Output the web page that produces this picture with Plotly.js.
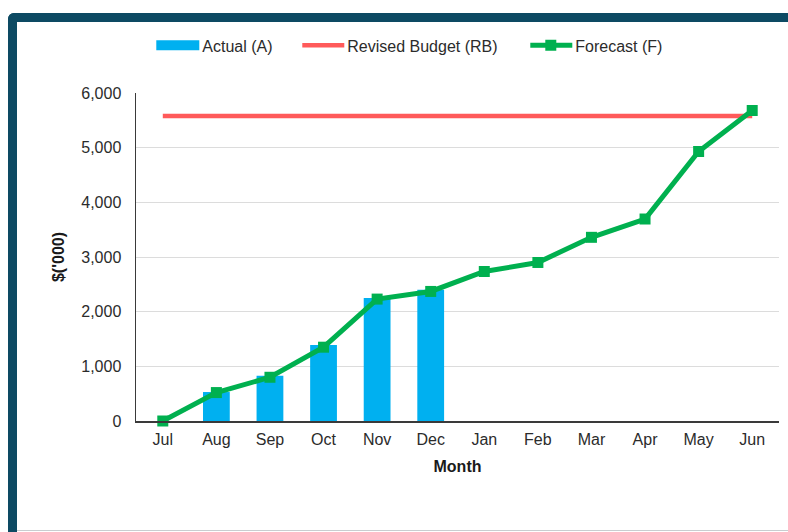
<!DOCTYPE html>
<html>
<head>
<meta charset="utf-8">
<script src="https://cdn.plot.ly/plotly-3.0.1.min.js"></script>
<style>
  html, body { margin: 0; padding: 0; background: #ffffff; overflow: hidden; }
  #wrap { position: relative; width: 788px; height: 532px; }
  #frame { position: absolute; left: 8px; top: 13px; width: 800px; height: 530px;
           border-left: 9px solid #0d4a63; border-top: 9px solid #0d4a63;
           border-top-left-radius: 6px; box-sizing: border-box; }
  #bottomline { position: absolute; left: 17px; top: 530px; width: 771px; height: 1px; background: #c9cdd0; }
  #chart { position: absolute; left: 0; top: 0; width: 788px; height: 532px; }
</style>
</head>
<body>
<div id="wrap">
  <div id="frame"></div>
  <div id="bottomline"></div>
  <div id="chart"></div>
</div>
<script>
const months = ["Jul","Aug","Sep","Oct","Nov","Dec","Jan","Feb","Mar","Apr","May","Jun"];
const actual = [0, 530, 830, 1390, 2250, 2400, null, null, null, null, null, null];
const revisedBudget = [5580, 5580, 5580, 5580, 5580, 5580, 5580, 5580, 5580, 5580, 5580, 5580];
const forecast = [0, 520, 800, 1350, 2230, 2370, 2735, 2900, 3360, 3695, 4930, 5680];
const yTicks = [0, 1000, 2000, 3000, 4000, 5000, 6000];

const font = "Liberation Sans, Arial, sans-serif";
const textColor = "#2b2b2b";
const fs = 16;

const traces = [
  {
    type: "bar", name: "Actual (A)", x: months, y: actual, legend: "legend",
    marker: { color: "#00b0f0" }, width: 0.5
  },
  {
    type: "scatter", mode: "lines", name: "Revised Budget (RB)", x: months, y: revisedBudget, legend: "legend2",
    line: { color: "#ff5a5a", width: 4.5 }
  },
  {
    type: "scatter", mode: "lines+markers", name: "Forecast (F)", x: months, y: forecast, legend: "legend3",
    line: { color: "#00b04f", width: 5 }, cliponaxis: false,
    marker: { color: "#00b04f", symbol: "square", size: 11 }
  }
];

function leg(x) {
  return {
    orientation: "h", x: x, xanchor: "left", y: 1.145, yanchor: "middle", itemwidth: 37,
    font: { family: font, size: fs, color: textColor }, bgcolor: "rgba(0,0,0,0)", borderwidth: 0
  };
}

const layout = {
  width: 788, height: 532,
  margin: { l: 136, r: 9, t: 93, b: 111 },
  paper_bgcolor: "rgba(0,0,0,0)",
  plot_bgcolor: "#ffffff",
  font: { family: font, size: fs, color: textColor },
  showlegend: true,
  legend: leg(0.0300),
  legend2: leg(0.2555),
  legend3: leg(0.6101),
  xaxis: {
    type: "category", categoryorder: "array", categoryarray: months,
    range: [-0.5, 11.5],
    showline: true, linecolor: "#3a3a3a", linewidth: 1.5,
    showgrid: false, ticks: "", zeroline: false, ticklabelstandoff: 3,
    tickfont: { family: font, size: fs, color: textColor },
    title: { text: "Month", font: { family: font, size: fs, color: "#1a1a1a", weight: "bold" }, standoff: 14 }
  },
  yaxis: {
    range: [0, 6000], tickvals: yTicks, tickformat: ",d",
    showline: true, linecolor: "#3a3a3a", linewidth: 1.5,
    showgrid: true, gridcolor: "#dcdcdc", gridwidth: 1,
    zeroline: false, ticks: "", ticklabelstandoff: 10,
    tickfont: { family: font, size: fs, color: textColor },
    title: { text: "$('000)", font: { family: font, size: fs, color: "#1a1a1a", weight: "bold" }, standoff: 12 }
  },
  bargap: 0.5
};

function fixLegendSymbols(gd) {
  const info = gd.querySelector(".infolayer");
  if (!info) return;
  info.querySelectorAll("path.legendundefined").forEach(function (p) {
    p.setAttribute("d", "M1,-5H44V5H1Z");
    p.setAttribute("transform", "translate(0,0)");
  });
  info.querySelectorAll("path.js-line").forEach(function (p) {
    p.setAttribute("d", "M2,0h42");
  });
  info.querySelectorAll("path.scatterpts").forEach(function (p) {
    p.setAttribute("transform", "translate(22.5,0)");
  });
}

Plotly.newPlot("chart", traces, layout, { displayModeBar: false, staticPlot: true }).then(function (gd) {
  fixLegendSymbols(gd);
  setTimeout(function () { fixLegendSymbols(gd); }, 30);
});
</script>
</body>
</html>
